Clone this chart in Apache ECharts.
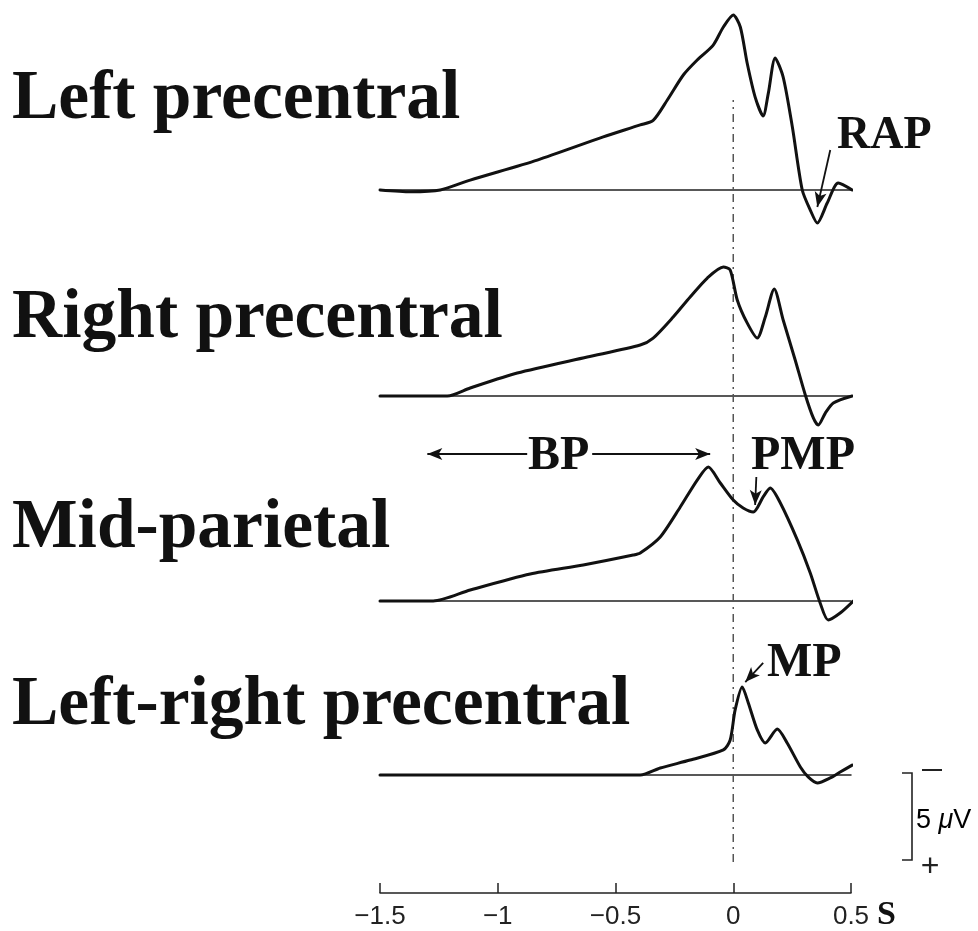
<!DOCTYPE html>
<html>
<head>
<meta charset="utf-8">
<script src="https://cdn.jsdelivr.net/npm/echarts@6/dist/echarts.min.js"></script>
<style>
  html, body { margin: 0; padding: 0; background: #ffffff; }
  #chart { width: 978px; height: 931px; }
</style>
</head>
<body>
<div id="chart"></div>
<script>
// Averaged movement-related potentials, time in s relative to movement onset,
// amplitude in µV (negativity plotted upward).
const traceNames = ['Left precentral', 'Right precentral', 'Mid-parietal', 'Left-right precentral'];

const leftPrecentral = [
  [-1.5, 0], [-1.37, 0.1], [-1.244, 0], [-1.117, -0.57], [-0.832, -1.72], [-0.552, -3.05],
  [-0.395, -3.74], [-0.34, -4.0], [-0.28, -5.17], [-0.212, -6.61], [-0.153, -7.47],
  [-0.085, -8.33], [-0.042, -9.37], [0, -10.06], [0.03, -9.37], [0.059, -7.3], [0.093, -5.34],
  [0.127, -4.25], [0.149, -5.57], [0.178, -7.59], [0.212, -6.49], [0.251, -3.62], [0.293, 0],
  [0.327, 1.15], [0.357, 1.9], [0.399, 0.75], [0.446, -0.4], [0.505, 0]
];

const rightPrecentral = [
  [-1.5, 0], [-1.214, 0], [-1.117, -0.46], [-0.917, -1.32], [-0.62, -2.24], [-0.395, -2.93],
  [-0.34, -3.33], [-0.255, -4.54], [-0.183, -5.69], [-0.11, -6.78], [-0.042, -7.41],
  [-0.013, -7.24], [0.017, -5.52], [0.059, -4.2], [0.102, -3.33], [0.136, -4.54], [0.174, -6.15],
  [0.212, -4.37], [0.263, -2.07], [0.306, -0.06], [0.34, 1.26], [0.361, 1.67], [0.391, 0.98],
  [0.425, 0.4], [0.505, 0]
];

const midParietal = [
  [-1.5, 0], [-1.274, 0], [-1.117, -0.63], [-0.862, -1.55], [-0.637, -2.07], [-0.425, -2.64],
  [-0.395, -2.76], [-0.31, -3.68], [-0.225, -5.4], [-0.153, -6.95], [-0.106, -7.7],
  [-0.055, -6.78], [0, -5.8], [0.042, -5.34], [0.085, -5.11], [0.127, -5.98], [0.157, -6.49],
  [0.2, -5.63], [0.272, -3.51], [0.327, -1.61], [0.369, 0.11], [0.403, 1.09], [0.454, 0.69],
  [0.51, 0]
];

const leftMinusRight = [
  [-1.5, 0], [-0.395, 0], [-0.31, -0.4], [-0.183, -0.86], [-0.042, -1.44], [-0.013, -2.01],
  [0.008, -3.74], [0.038, -5.06], [0.064, -4.14], [0.102, -2.59], [0.136, -1.84], [0.187, -2.64],
  [0.229, -1.84], [0.285, -0.46], [0.318, 0.11], [0.357, 0.46], [0.412, 0.17], [0.454, -0.17],
  [0.505, -0.57]
];

const timeTicks = [-1.5, -1, -0.5, 0, 0.5];
const scaleBarMicrovolts = 5;

// ---- layout ----
const plotLeft = 380, plotWidth = 471;
const pxPerMicrovolt = 17.4;
const vMin = -10.5, vMax = 3.5;
const baselines = [190, 396, 601, 775];
const axisY = 893;

const traces = [leftPrecentral, rightPrecentral, midParietal, leftMinusRight];

const grids = [], xAxes = [], yAxes = [], series = [];

const arrowLine = (pairs) => ({
  silent: true,
  symbol: ['none', 'arrow'],
  symbolSize: [9, 15],
  label: { show: false },
  emphasis: { disabled: true },
  lineStyle: { color: '#111', width: 1.8, type: 'solid' },
  data: pairs
});

const annotationArrows = [
  // RAP
  [[{ coord: [0.412, -2.3] }, { coord: [0.357, 0.98] }]],
  [],
  // BP (double-headed, split around the label) and PMP
  [
    [{ coord: [-0.875, -8.45], symbol: 'none' }, { coord: [-1.299, -8.45] }],
    [{ coord: [-0.599, -8.45], symbol: 'none' }, { coord: [-0.098, -8.45] }],
    [{ coord: [0.098, -7.13], symbol: 'none' }, { coord: [0.093, -5.52] }]
  ],
  // MP
  [[{ coord: [0.127, -6.44] }, { coord: [0.051, -5.34] }]]
];

traces.forEach((data, i) => {
  grids.push({
    left: plotLeft, width: plotWidth,
    top: baselines[i] + vMin * pxPerMicrovolt,
    height: (vMax - vMin) * pxPerMicrovolt
  });
  xAxes.push({
    type: 'value', gridIndex: i, min: -1.5, max: 0.5,
    axisLine: { show: true, onZero: true, lineStyle: { color: '#222', width: 1.5 } },
    axisTick: { show: false }, axisLabel: { show: false }, splitLine: { show: false }
  });
  yAxes.push({
    type: 'value', gridIndex: i, min: vMin, max: vMax, inverse: true, show: false,
    splitLine: { show: false }
  });
  const s = {
    type: 'line', name: traceNames[i], xAxisIndex: i, yAxisIndex: i,
    data: data, showSymbol: false, clip: false,
    smooth: 0.25,
    lineStyle: { color: '#111', width: 3, join: 'round', cap: 'round' },
    z: 3
  };
  if (annotationArrows[i].length) s.markLine = arrowLine(annotationArrows[i]);
  series.push(s);
});

// time axis
grids.push({ left: plotLeft, width: plotWidth, top: axisY - 40, height: 40 });
xAxes.push({
  type: 'value', gridIndex: 4, min: timeTicks[0], max: timeTicks[timeTicks.length - 1],
  interval: 0.5, position: 'bottom',
  axisLine: { show: true, onZero: false, lineStyle: { color: '#222', width: 1.5 } },
  axisTick: { show: true, inside: true, length: 10, lineStyle: { color: '#222', width: 1.5 } },
  splitLine: { show: false },
  axisLabel: {
    margin: 11, color: '#222', fontSize: 26,
    fontFamily: '"Liberation Sans Narrow", "Liberation Sans", Arial, sans-serif',
    formatter: v => (v < 0 ? '\u2212' + String(-v) : String(v))
  }
});
yAxes.push({ type: 'value', gridIndex: 4, min: 0, max: 1, show: false });

// movement onset marker
grids.push({ left: plotLeft, width: plotWidth, top: 100, height: 762 });
xAxes.push({ type: 'value', gridIndex: 5, min: -1.5, max: 0.5, show: false });
yAxes.push({ type: 'value', gridIndex: 5, min: 0, max: 1, show: false });
series.push({
  type: 'line', xAxisIndex: 5, yAxisIndex: 5, data: [[0, 0], [0, 1]],
  showSymbol: false, silent: true,
  lineStyle: { color: '#555', width: 1.5, type: [8, 5, 2, 5] }, z: 1
});

const serif = '"Liberation Serif", "Times New Roman", serif';
const sans = '"Liberation Sans", Arial, sans-serif';

const txt = (text, x, y, size, opts = {}) => ({
  type: 'text', silent: true, z: 10,
  style: Object.assign({
    text, x, y, fill: '#111',
    font: `bold ${size}px ${serif}`,
    align: 'left', verticalAlign: 'middle',
    textAlign: 'left', textVerticalAlign: 'middle'
  }, opts)
});

const titleY = [100, 319, 529, 706];
const graphics = traceNames.map((n, i) => txt(n, 12, titleY[i], 69.5));

graphics.push(
  txt('RAP', 837, 136, 46),
  txt('BP', 528, 457, 48),
  txt('PMP', 751, 457, 48),
  txt('MP', 767, 664, 48),
  txt('S', 877, 915, 34)
);

// calibration bar
const barTop = 773, barBottom = barTop + scaleBarMicrovolts * pxPerMicrovolt;
graphics.push(
  {
    type: 'polyline', silent: true,
    shape: { points: [[902, barTop], [912, barTop], [912, barBottom], [902, barBottom]] },
    style: { stroke: '#222', lineWidth: 1.6, fill: null }
  },
  {
    type: 'line', silent: true,
    shape: { x1: 922, y1: barTop - 3, x2: 942, y2: barTop - 3 },
    style: { stroke: '#222', lineWidth: 2 }
  },
  txt('+', 930, barBottom + 7, 32, { font: `32px ${sans}`, fill: '#222', align: 'center', textAlign: 'center' }),
  {
    type: 'text', silent: true,
    style: {
      text: '{n|' + scaleBarMicrovolts + ' }{u|\u03bc}{n|V}',
      x: 916, y: (barTop + barBottom) / 2 + 4,
      align: 'left', verticalAlign: 'middle', textAlign: 'left', textVerticalAlign: 'middle',
      rich: {
        n: { fontSize: 27, fontFamily: sans, color: '#222' },
        u: { fontSize: 27, fontFamily: sans, fontStyle: 'italic', color: '#222' }
      }
    }
  }
);

const chart = echarts.init(document.getElementById('chart'), null, { renderer: 'canvas' });
chart.setOption({
  animation: false,
  backgroundColor: '#ffffff',
  grid: grids,
  xAxis: xAxes,
  yAxis: yAxes,
  series: series,
  graphic: graphics
});
</script>
</body>
</html>
